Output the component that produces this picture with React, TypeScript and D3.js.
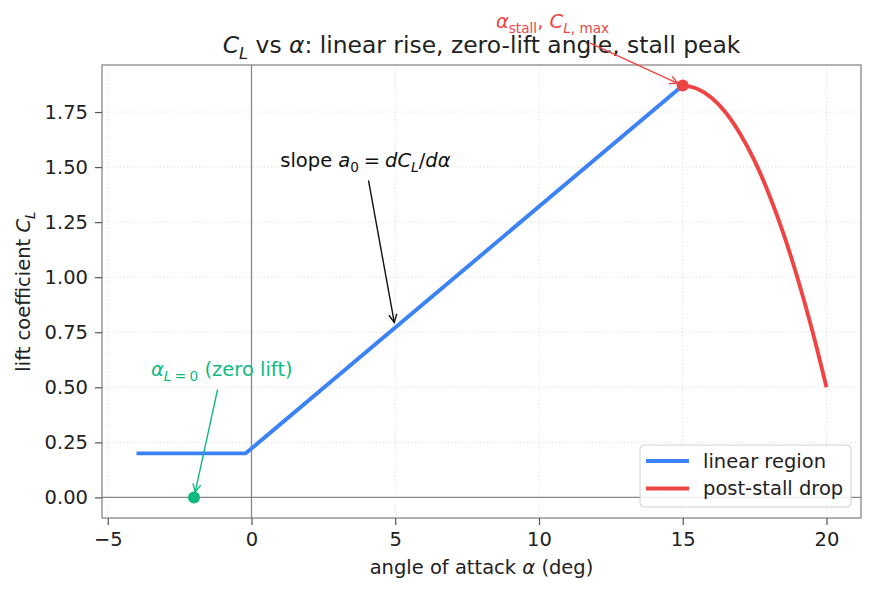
import React, { useRef, useEffect } from "react";
import * as d3 from "d3";

const width = 874;
const height = 595;
const margin = { left: 102, right: 13, top: 65, bottom: 77 }; // plot frame
const font = "DejaVu Sans, sans-serif";
const fs = 19.5; // base font size
const blue = "#3b82f6";
const red = "#ef4444";
const green = "#10b981";
const spine = "#888888";

// data
const linearAlpha = [-4, -0.2, 15];
const linearCL = [0.2, 0.2, 1.87];
const stallAlpha = [15, 15.5, 16, 16.5, 17, 17.5, 18, 18.5, 19, 19.5, 20];
const stallCL = [1.87, 1.856, 1.815, 1.747, 1.65, 1.528, 1.377, 1.199, 0.993, 0.76, 0.5];
const xTicks = [-5, 0, 5, 10, 15, 20];
const yTicks = [0, 0.25, 0.5, 0.75, 1.0, 1.25, 1.5, 1.75];
const legendLabels = ["linear region", "post-stall drop"];

interface Seg {
  t: string;
  i?: boolean; // italic
  s?: boolean; // subscript
}

const titleSegs: Seg[] = [
  { t: "C", i: true },
  { t: "L", i: true, s: true },
  { t: " vs " },
  { t: "α", i: true },
  { t: ": linear rise, zero-lift angle, stall peak" },
];
const yLabelSegs: Seg[] = [{ t: "lift coefficient " }, { t: "C", i: true }, { t: "L", i: true, s: true }];
const xLabelSegs: Seg[] = [{ t: "angle of attack " }, { t: "α", i: true }, { t: " (deg)" }];

// annotations: text anchor, arrow start, arrow target (data coords)
const annotations = [
  {
    segs: [
      { t: "α", i: true },
      { t: "stall", s: true },
      { t: ", " },
      { t: "C", i: true },
      { t: "L", i: true, s: true },
      { t: ", max", s: true },
    ] as Seg[],
    text: [8.5, 2.13],
    from: [11.78, 2.063],
    to: [15, 1.87],
    color: red,
  },
  {
    segs: [
      { t: "slope " },
      { t: "a", i: true },
      { t: "0", s: true },
      { t: "\u2005=\u2005" },
      { t: "dC", i: true },
      { t: "L", i: true, s: true },
      { t: "/" },
      { t: "dα", i: true },
    ] as Seg[],
    text: [1, 1.5],
    from: [4.07, 1.44],
    to: [5, 0.77],
    color: "#111111",
  },
  {
    segs: [
      { t: "α", i: true },
      { t: "L", i: true, s: true },
      { t: "\u2005=\u20050", s: true },
      { t: " (zero lift)" },
    ] as Seg[],
    text: [-3.5, 0.55],
    from: [-1.18, 0.49],
    to: [-2, 0],
    color: green,
  },
];

const x = d3
  .scaleLinear()
  .domain([-5.2, 21.2])
  .range([margin.left, width - margin.right]);
const y = d3
  .scaleLinear()
  .domain([-0.0935, 1.9635])
  .range([height - margin.bottom, margin.top]);

const MathText = ({ segs, size, ...props }: { segs: Seg[]; size: number; [k: string]: unknown }) => {
  let prevSub = false;
  const shift = size * 0.26;
  return (
    <text fontSize={size} fontFamily={font} style={{ whiteSpace: "pre" }} {...props}>
      {segs.map((g, k) => {
        let dy = 0;
        if (g.s && !prevSub) dy = shift;
        if (!g.s && prevSub) dy = -shift;
        prevSub = !!g.s;
        return (
          <tspan
            key={k}
            dy={dy || undefined}
            fontStyle={g.i ? "italic" : undefined}
            fontSize={g.s ? size * 0.7 : undefined}
          >
            {g.t}
          </tspan>
        );
      })}
    </text>
  );
};

const Arrow = ({ x1, y1, x2, y2, color }: { x1: number; y1: number; x2: number; y2: number; color: string }) => {
  const a = Math.atan2(y2 - y1, x2 - x1);
  const shrink = 5.5;
  const tx = x2 - shrink * Math.cos(a);
  const ty = y2 - shrink * Math.sin(a);
  const hl = 8;
  const hw = 4;
  const bx = tx - hl * Math.cos(a);
  const by = ty - hl * Math.sin(a);
  const px = -Math.sin(a) * hw;
  const py = Math.cos(a) * hw;
  return (
    <g stroke={color} fill="none" strokeWidth={1.4}>
      <line x1={x1} y1={y1} x2={tx} y2={ty} />
      <path d={`M${bx + px},${by + py}L${tx},${ty}L${bx - px},${by - py}`} />
    </g>
  );
};

const App = () => {
  const xAxisRef = useRef<SVGGElement>(null);
  const yAxisRef = useRef<SVGGElement>(null);

  useEffect(() => {
    const xAxis = d3.axisBottom(x).tickValues(xTicks).tickSize(7).tickPadding(7.5).tickFormat(d3.format("d") as never);
    const yAxis = d3.axisLeft(y).tickValues(yTicks).tickSize(7).tickPadding(7).tickFormat(d3.format(".2f") as never);
    for (const [ref, axis] of [
      [xAxisRef, xAxis],
      [yAxisRef, yAxis],
    ] as const) {
      const g = d3.select(ref.current!);
      g.call(axis as never);
      g.select(".domain").remove();
      g.selectAll(".tick line").attr("stroke", "#555").attr("stroke-width", 1.2);
      g.selectAll(".tick text").attr("fill", "#222").attr("font-size", fs).attr("font-family", font);
    }
  }, []);

  const linearPath = d3
    .line<[number, number]>()
    .x((d) => x(d[0]))
    .y((d) => y(d[1]))(linearAlpha.map((a, i) => [a, linearCL[i]]));
  const stallPath = d3
    .line<[number, number]>()
    .x((d) => x(d[0]))
    .y((d) => y(d[1]))
    .curve(d3.curveMonotoneX)(stallAlpha.map((a, i) => [a, stallCL[i]]));

  const left = margin.left;
  const right = width - margin.right;
  const top = margin.top;
  const bottom = height - margin.bottom;
  const legend = { x: 640, y: 445, w: 211, h: 62 };

  return (
    <svg width={width} height={height} style={{ position: "absolute", left: 0, top: 0, background: "#fff" }}>
      {/* grid */}
      <g stroke="#d4d4d4" strokeWidth={0.8} strokeDasharray="1.2,2.4">
        {xTicks.map((t) => (
          <line key={"gx" + t} x1={x(t)} x2={x(t)} y1={top} y2={bottom} />
        ))}
        {yTicks.map((t) => (
          <line key={"gy" + t} x1={left} x2={right} y1={y(t)} y2={y(t)} />
        ))}
      </g>
      {/* zero lines */}
      <line x1={x(0)} x2={x(0)} y1={top} y2={bottom} stroke={spine} strokeWidth={1.3} />
      <line x1={left} x2={right} y1={y(0)} y2={y(0)} stroke={spine} strokeWidth={1.3} />

      <path d={linearPath || ""} fill="none" stroke={blue} strokeWidth={3.9} strokeLinejoin="round" />
      <path d={stallPath || ""} fill="none" stroke={red} strokeWidth={3.9} />
      <circle cx={x(15)} cy={y(1.87)} r={6} fill={red} />
      <circle cx={x(-2)} cy={y(0)} r={6} fill={green} />

      {/* frame */}
      <rect x={left} y={top} width={right - left} height={bottom - top} fill="none" stroke={spine} strokeWidth={1.3} />
      <g ref={xAxisRef} transform={`translate(0,${bottom})`} />
      <g ref={yAxisRef} transform={`translate(${left},0)`} />

      {/* legend */}
      <rect x={legend.x} y={legend.y} width={legend.w} height={legend.h} rx={4} fill="#fff" fillOpacity={0.85} stroke="#d0d0d0" />
      {legendLabels.map((l, i) => (
        <g key={l}>
          <line
            x1={legend.x + 6}
            x2={legend.x + 49}
            y1={legend.y + 16 + i * 27.5}
            y2={legend.y + 16 + i * 27.5}
            stroke={i === 0 ? blue : red}
            strokeWidth={3.9}
          />
          <text x={legend.x + 63} y={legend.y + 16 + i * 27.5} dy="0.35em" fontSize={fs} fontFamily={font} fill="#222">
            {l}
          </text>
        </g>
      ))}

      {/* titles */}
      <MathText segs={titleSegs} size={23.4} x={(left + right) / 2} y={53} textAnchor="middle" fill="#222" />
      <MathText segs={xLabelSegs} size={fs} x={(left + right) / 2} y={574} textAnchor="middle" fill="#222" />
      <MathText
        segs={yLabelSegs}
        size={fs}
        textAnchor="middle"
        fill="#222"
        transform={`translate(30,${(top + bottom) / 2}) rotate(-90)`}
      />

      {/* annotations */}
      {annotations.map((a, i) => (
        <g key={i}>
          <MathText segs={a.segs} size={fs} x={x(a.text[0])} y={y(a.text[1])} fill={a.color} />
          <Arrow x1={x(a.from[0])} y1={y(a.from[1])} x2={x(a.to[0])} y2={y(a.to[1])} color={a.color} />
        </g>
      ))}
    </svg>
  );
};

export default App;
